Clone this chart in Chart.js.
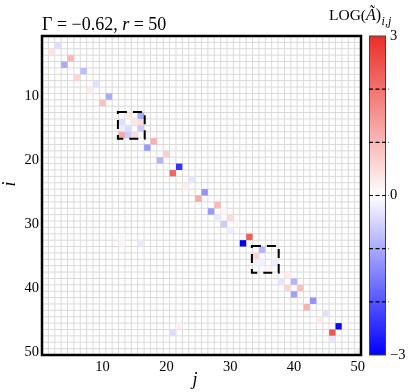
<!DOCTYPE html>
<html>
<head>
<meta charset="utf-8">
<script src="https://cdn.jsdelivr.net/npm/chart.js@4.4.0/dist/chart.umd.min.js"></script>
<style>
  html, body { margin: 0; padding: 0; background: #fff; }
  #heat { display: block; }
</style>
</head>
<body>
<canvas id="heat" width="409" height="392"></canvas>
<script>
var N = 50;

// nonzero entries of LOG(A~)_{i,j} (row i, column j, value)
var rows = [2, 3, 4, 5, 6, 7, 8, 9, 10, 11,
  13, 13, 14, 14, 14, 15, 15, 15, 16, 16, 16,
  17, 18, 19, 20, 21, 22, 23, 24, 25, 26, 27, 28, 28, 29, 29, 30, 30, 31, 32, 33,
  34, 35, 35, 36, 36, 36, 37,
  38, 39, 39, 40, 40, 41, 42, 43, 44, 45, 46, 47, 46, 48,
  32, 33, 33, 46, 47, 50];
var cols = [3, 2, 5, 4, 7, 6, 9, 8, 11, 10,
  14, 16, 13, 15, 16, 13, 14, 16, 13, 14, 15,
  18, 17, 20, 19, 22, 21, 24, 23, 26, 25, 28, 27, 29, 28, 30, 29, 31, 30, 33, 32,
  35, 34, 37, 34, 35, 37, 36,
  39, 38, 40, 39, 41, 40, 43, 42, 45, 44, 47, 46, 48, 46,
  13, 13, 16, 22, 21, 50];
var vals = [-0.4, 0.4, 1.0, -1.0, -0.8, 0.6, -0.35, 0.3, -1.0, 0.9,
  0.3, -1.0, -0.4, 0.35, 0.5, -0.2, -0.4, -0.6, 1.2, -0.6, 0.5,
  1.1, -1.2, 0.7, -0.9, -2.4, 2.2, -0.3, 0.25, -1.3, 1.2, 1.0, -1.2, 0.15, -0.25, 0.5, -0.6, 0.1, -0.2, 2.3, -3.0,
  -0.9, 0.6, 0.1, -0.15, -0.15, -0.2, 0.15,
  0.25, -0.3, -0.9, 0.6, 0.9, -1.1, -1.3, 1.1, -0.35, 0.3, -2.9, 2.4, 0.15, -0.3,
  0.1, 0.15, -0.25, 0.2, -0.4, -0.15];

var xTicks = [10, 20, 30, 40, 50];
var yTicks = [10, 20, 30, 40, 50];
var cbarMin = -3;
var cbarMax = 3;
var cbarTicks = [-3, -2, -1, 0, 1, 2, 3];
var cbarLabels = ["−3", "", "", "0", "", "", "3"];
// highlighted blocks: first and last index of each square
var blocks = [[13, 16], [34, 37]];

var SERIF = "'Liberation Serif', 'DejaVu Serif', serif";
var RED = [235, 45, 38];
var BLUE = [0, 0, 255];

function logColor(v) {
  var t = Math.max(-1, Math.min(1, v / cbarMax));
  var c = t >= 0 ? RED : BLUE;
  var a = Math.abs(t);
  var r = Math.round(255 + (c[0] - 255) * a);
  var g = Math.round(255 + (c[1] - 255) * a);
  var b = Math.round(255 + (c[2] - 255) * a);
  return "rgb(" + r + "," + g + "," + b + ")";
}

var cellData = rows.map(function (r, k) {
  return { x: cols[k], y: r };
});
var cellColors = vals.map(logColor);

function cellRadius(c) {
  var s = c.chart.scales.x;
  var w = Math.abs(s.getPixelForValue(1) - s.getPixelForValue(0));
  return w / (2 * Math.SQRT1_2);
}

var matrixFrame = {
  id: "matrixFrame",
  beforeDatasetsDraw: function (chart) {
    var ctx = chart.ctx, a = chart.chartArea;
    var sx = chart.scales.x, sy = chart.scales.y;
    ctx.save();
    ctx.strokeStyle = "#dadada";
    ctx.lineWidth = 1;
    ctx.beginPath();
    for (var k = 0; k <= N; k++) {
      var px = sx.getPixelForValue(k + 0.5);
      var py = sy.getPixelForValue(k + 0.5);
      ctx.moveTo(px, a.top); ctx.lineTo(px, a.bottom);
      ctx.moveTo(a.left, py); ctx.lineTo(a.right, py);
    }
    ctx.stroke();
    ctx.restore();
  },
  afterDatasetsDraw: function (chart) {
    var ctx = chart.ctx, a = chart.chartArea;
    var sx = chart.scales.x, sy = chart.scales.y;
    ctx.save();

    // dashed boxes
    ctx.strokeStyle = "#000";
    ctx.lineWidth = 2;
    ctx.setLineDash([9, 6]);
    blocks.forEach(function (b) {
      var x1 = sx.getPixelForValue(b[0] - 0.6), x2 = sx.getPixelForValue(b[1] + 0.6);
      var y1 = sy.getPixelForValue(b[0] - 0.6), y2 = sy.getPixelForValue(b[1] + 0.6);
      ctx.strokeRect(x1, y1, x2 - x1, y2 - y1);
    });
    ctx.setLineDash([]);

    // frame
    ctx.lineWidth = 2.5;
    ctx.strokeRect(a.left, a.top, a.right - a.left, a.bottom - a.top);

    // title
    ctx.fillStyle = "#000";
    ctx.textBaseline = "alphabetic";
    ctx.textAlign = "left";
    var tx = 42;
    ctx.font = "18px " + SERIF;
    ctx.fillText("Γ = −0.62, ", tx, 29.5);
    tx += ctx.measureText("Γ = −0.62, ").width;
    ctx.font = "italic 18px " + SERIF;
    ctx.fillText("r", tx, 29.5);
    tx += ctx.measureText("r").width;
    ctx.font = "18px " + SERIF;
    ctx.fillText(" = 50", tx, 29.5);

    // axis titles
    ctx.font = "italic 18px " + SERIF;
    ctx.textAlign = "center";
    ctx.textBaseline = "middle";
    ctx.fillText("j", 195, 380);
    ctx.save();
    ctx.translate(10, 184);
    ctx.rotate(-Math.PI / 2);
    ctx.fillText("i", 0, 0);
    ctx.restore();

    // colorbar
    var cx1 = 369, cx2 = 386;
    var grad = ctx.createLinearGradient(0, a.top, 0, a.bottom);
    grad.addColorStop(0, logColor(cbarMax));
    grad.addColorStop(0.5, logColor(0));
    grad.addColorStop(1, logColor(cbarMin));
    ctx.fillStyle = grad;
    ctx.fillRect(cx1, a.top, cx2 - cx1, a.bottom - a.top);
    ctx.strokeStyle = "#444";
    ctx.lineWidth = 1;
    ctx.strokeRect(cx1 + 0.5, a.top, cx2 - cx1 - 1, a.bottom - a.top);

    ctx.font = "14.5px " + SERIF;
    ctx.textAlign = "left";
    ctx.textBaseline = "middle";
    cbarTicks.forEach(function (v, k) {
      var y = a.bottom - (v - cbarMin) / (cbarMax - cbarMin) * (a.bottom - a.top);
      if (v > cbarMin && v < cbarMax) {
        ctx.strokeStyle = "#000";
        ctx.lineWidth = 1.2;
        ctx.setLineDash([4, 2.5]);
        ctx.beginPath();
        ctx.moveTo(cx1, y);
        ctx.lineTo(cx2 + 3, y);
        ctx.stroke();
        ctx.setLineDash([]);
      }
      ctx.fillStyle = "#000";
      if (cbarLabels[k]) ctx.fillText(cbarLabels[k], 390, y);
    });

    // colorbar label LOG(A~)_{i,j}
    ctx.textBaseline = "alphabetic";
    var lx = 329;
    ctx.font = "15.5px " + SERIF;
    ctx.fillText("LOG(", lx, 20);
    lx += ctx.measureText("LOG(").width;
    ctx.font = "italic 16px " + SERIF;
    ctx.fillText("Ã", lx, 20);
    lx += ctx.measureText("Ã").width;
    ctx.font = "16px " + SERIF;
    ctx.fillText(")", lx, 20);
    lx += ctx.measureText(")").width;
    ctx.font = "italic 12px " + SERIF;
    ctx.fillText("i,j", lx + 0.5, 25);

    ctx.restore();
  }
};

new Chart("heat", {
  type: "scatter",
  data: {
    datasets: [
      {
        data: cellData,
        backgroundColor: cellColors,
        borderWidth: 0,
        pointStyle: "rect",
        pointRadius: cellRadius,
        pointHoverRadius: cellRadius,
      },
    ],
  },
  options: {
    responsive: false,
    animation: false,
    events: [],
    layout: { padding: { left: 0, top: 36, right: 48, bottom: 0 } },
    plugins: { legend: { display: false }, tooltip: { enabled: false } },
    scales: {
      x: {
        type: "linear",
        min: 0.5,
        max: 50.5,
        grid: { display: false, drawTicks: false },
        border: { display: false },
        afterBuildTicks: function (s) {
          s.ticks = xTicks.map(function (v) { return { value: v }; });
        },
        afterFit: function (s) { s.height = 37; },
        ticks: { color: "#000", padding: 3, maxRotation: 0, autoSkip: false, font: { family: SERIF, size: 14.5 } },
      },
      y: {
        type: "linear",
        reverse: true,
        min: 0.5,
        max: 50.5,
        grid: { display: false, drawTicks: false },
        border: { display: false },
        afterBuildTicks: function (s) {
          s.ticks = yTicks.map(function (v) { return { value: v }; });
        },
        afterFit: function (s) { s.width = 42; },
        ticks: { color: "#000", padding: 3, autoSkip: false, font: { family: SERIF, size: 14.5 } },
      },
    },
  },
  plugins: [matrixFrame],
});
</script>
</body>
</html>
